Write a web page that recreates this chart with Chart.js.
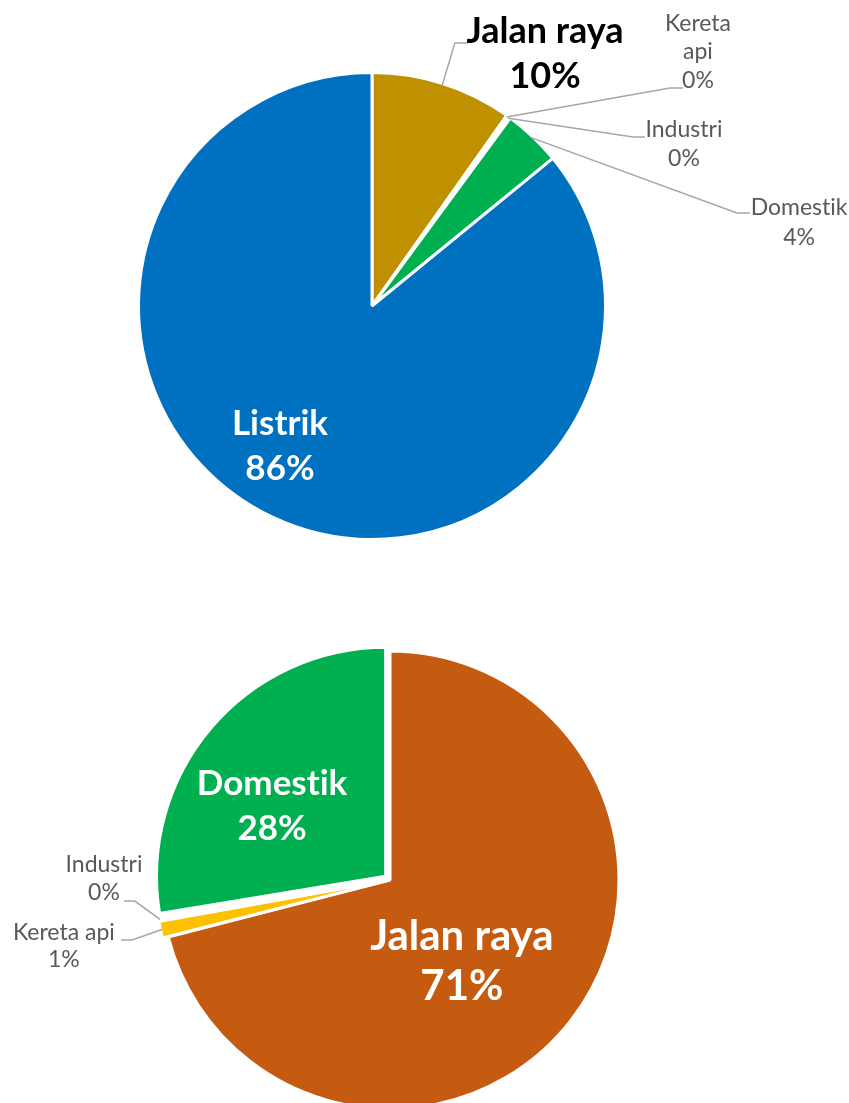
<!DOCTYPE html>
<html>
<head>
<meta charset="utf-8">
<script src="https://cdn.jsdelivr.net/npm/chart.js@4.4.1/dist/chart.umd.min.js"></script>
<style>
  html, body { margin: 0; padding: 0; background: #ffffff; }
  #wrap { position: relative; width: 849px; height: 1103px; overflow: hidden; }
  #c1 { position: absolute; left: 0; top: 0; }
  #c2 { position: absolute; left: 0; top: 612px; }
</style>
</head>
<body>
<div id="wrap">
  <canvas id="c1" width="849" height="612"></canvas>
  <canvas id="c2" width="849" height="491"></canvas>
</div>
<script>
// ---- Data ----
const categoriesTop = ['Jalan raya', 'Kereta api', 'Industri', 'Domestik', 'Listrik'];
const sharesTop = [9.8, 0.1, 0.2, 4.0, 85.9];

const categoriesBottom = ['Jalan raya', 'Kereta api', 'Industri', 'Domestik'];
const sharesBottom = [71.0, 1.2, 0.2, 27.6];

// ---- Styles ----
const coloursTop = ['#BF9000', '#FFC000', '#A5A5A5', '#00B050', '#0070C0'];
const coloursBottom = ['#C55A11', '#FFC000', '#A5A5A5', '#00B050'];
const explodeBottom = [0, 12, 12, 23];

const GRAY = '#595959';
const LEADER = '#A6A6A6';
const FONT = 'Lato, "Open Sans", sans-serif';

// avoid the font's "ti" ligature when drawing (zero-width non-joiner)
const noLig = s => s.replace(/t(?=i)/g, 't\u200C');

// Custom data-label plugin (label placement in units of pie radius, relative to centre)
const pieLabels = {
  id: 'pieLabels',
  afterDatasetsDraw(chart, args, opts) {
    const ctx = chart.ctx;
    const meta = chart.getDatasetMeta(0);
    const ds = chart.data.datasets[0];
    const total = ds.data.reduce((a, b) => a + b, 0);
    const base = meta.data[0];
    const cx = base.x, cy = base.y, R = base.outerRadius;
    ctx.save();
    (opts.items || []).forEach(it => {
      const el = meta.data[it.i];
      const name = chart.data.labels[it.i];
      const pct = Math.round(ds.data[it.i] / total * 100) + '%';
      const lines = (it.split ? name.split(' ') : [name]).concat([pct]);
      if (it.elbow) {
        const mid = (el.startAngle + el.endAngle) / 2;
        const off = (el.options.offset || 0) / 4;
        const fix = 1 - Math.sin(Math.min(Math.PI, el.circumference));
        const r = el.outerRadius + off * fix - 1.5;
        const sx = cx + Math.cos(mid) * (off + r);
        const sy = cy + Math.sin(mid) * (off + r);
        ctx.beginPath();
        ctx.moveTo(sx, sy);
        ctx.lineTo(cx + it.elbow[0] * R, cy + it.elbow[1] * R);
        ctx.lineTo(cx + it.end[0] * R, cy + it.end[1] * R);
        ctx.strokeStyle = LEADER;
        ctx.lineWidth = 1.5;
        ctx.stroke();
      }
      ctx.font = (it.bold ? 'bold ' : '') + it.size + 'px ' + FONT;
      ctx.fillStyle = it.color;
      ctx.textAlign = 'center';
      ctx.textBaseline = 'alphabetic';
      lines.forEach((t, k) => {
        ctx.fillText(noLig(t), cx + it.x * R, cy + it.y * R + k * it.lh);
      });
    });
    ctx.restore();
  }
};

const commonOpts = {
  responsive: false,
  animation: false,
  plugins: { legend: { display: false }, tooltip: { enabled: false } }
};

new Chart(document.getElementById('c1'), {
  type: 'pie',
  data: {
    labels: categoriesTop,
    datasets: [{
      data: sharesTop,
      backgroundColor: coloursTop,
      borderColor: '#ffffff',
      borderWidth: 3
    }]
  },
  options: Object.assign({}, commonOpts, {
    radius: 233.5,
    layout: { padding: { left: 0, right: 105, top: 0, bottom: 0 } },
    plugins: Object.assign({}, commonOpts.plugins, {
      pieLabels: {
        items: [
          { i: 0, x: 0.741, y: -1.126, lh: 45, size: 36, bold: true, color: '#000000',
            elbow: [0.355, -1.126], end: [0.411, -1.126] },
          { i: 1, x: 1.396, y: -1.178, lh: 28.5, size: 23, color: GRAY, split: true,
            elbow: [1.276, -0.934], end: [1.332, -0.934] },
          { i: 2, x: 1.336, y: -0.724, lh: 29, size: 23, color: GRAY,
            elbow: [1.118, -0.724], end: [1.169, -0.724] },
          { i: 3, x: 1.829, y: -0.390, lh: 30, size: 23, color: GRAY,
            elbow: [1.563, -0.398], end: [1.619, -0.398] },
          { i: 4, x: -0.394, y: 0.552, lh: 45, size: 35, bold: true, color: '#ffffff' }
        ]
      }
    })
  }),
  plugins: [pieLabels]
});

new Chart(document.getElementById('c2'), {
  type: 'pie',
  data: {
    labels: categoriesBottom,
    datasets: [{
      data: sharesBottom,
      backgroundColor: coloursBottom,
      borderColor: '#ffffff',
      borderWidth: 3,
      offset: explodeBottom
    }]
  },
  options: Object.assign({}, commonOpts, {
    radius: 229,
    layout: { padding: { left: 0, right: 69, top: 45, bottom: 0 } },
    plugins: Object.assign({}, commonOpts.plugins, {
      pieLabels: {
        items: [
          { i: 0, x: 0.314, y: 0.306, lh: 50, size: 42, bold: true, color: '#ffffff' },
          { i: 1, x: -1.424, y: 0.262, lh: 27, size: 23, color: GRAY,
            elbow: [-1.127, 0.262], end: [-1.175, 0.262] },
          { i: 2, x: -1.249, y: -0.035, lh: 28, size: 23, color: GRAY,
            elbow: [-1.114, 0.092], end: [-1.162, 0.092] },
          { i: 3, x: -0.515, y: -0.371, lh: 45, size: 35, bold: true, color: '#ffffff' }
        ]
      }
    })
  }),
  plugins: [pieLabels]
});
</script>
</body>
</html>
